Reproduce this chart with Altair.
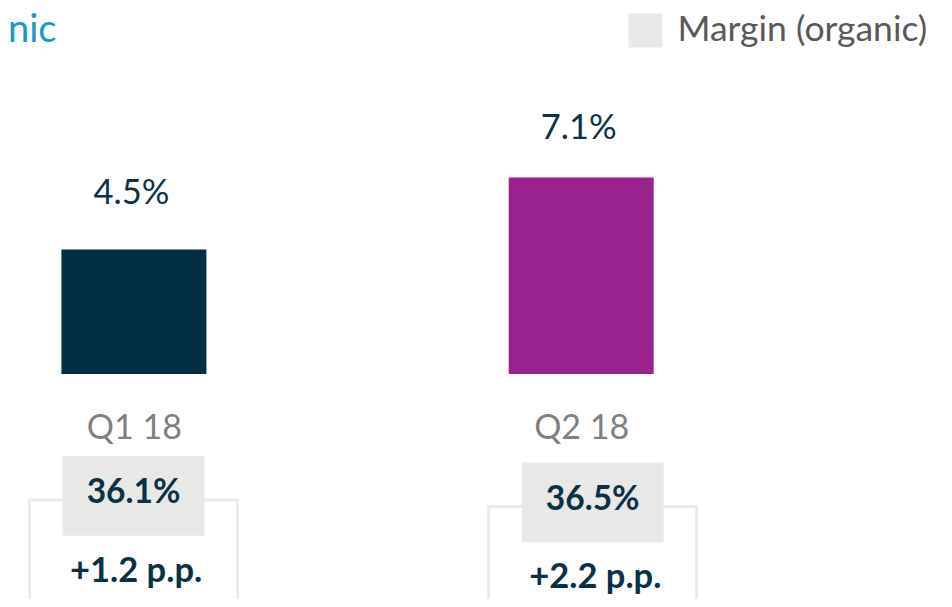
import altair as alt
import pandas as pd

# ---- data ----
categories = ["Q1 18", "Q2 18"]
growth = [4.5, 7.1]              # organic growth, %
margin = [36.1, 36.5]            # margin (organic), %
margin_change = [1.2, 2.2]       # change in margin, p.p.
bar_colors = ["#032f45", "#99228f"]
series_name = "Margin (organic)"
title_text = "nic"

df = pd.DataFrame({
    "quarter": categories,
    "growth": growth,
    "margin": margin,
    "change": margin_change,
})
df["growth_label"] = df["growth"].map(lambda v: f"{v:.1f}%")
df["margin_label"] = df["margin"].map(lambda v: f"{v:.1f}%")
df["change_label"] = df["change"].map(lambda v: f"+{v:.1f} p.p.")
df["series"] = series_name

FONT = "Lato"
NAVY = "#0a3246"
BOX = "#e8e8e6"
BRACKET = "#ebebeb"

# ---------------- upper part: bars ----------------
x_up = alt.X("quarter:N", sort=categories,
             scale=alt.Scale(type="point", domain=categories, range=[125.9, 573.2], padding=0),
             axis=alt.Axis(title=None, domain=False, ticks=False, tickSize=0, grid=False,
                           labelAngle=0, labelPadding=64.3, labelBaseline="alphabetic",
                           labelFont=FONT, labelFontSize=34, labelColor="#7f7f7f"))
y_up = alt.Y("growth:Q", scale=alt.Scale(domain=[0, 13.22], nice=False, zero=True), axis=None)

base = alt.Chart(df)
bars = base.mark_bar(width=145).encode(
    x=x_up, y=y_up,
    color=alt.Color("quarter:N", scale=alt.Scale(domain=categories, range=bar_colors), legend=None),
)
label_dy = [-45.3, -38.4]
value_labels = [
    base.transform_filter(alt.datum.quarter == c).mark_text(
        font=FONT, fontSize=34.5, color=NAVY, baseline="alphabetic", align="center",
        dx=-2.5, dy=label_dy[i],
    ).encode(x=x_up, y=y_up, text="growth_label:N")
    for i, c in enumerate(categories)
]
upper = alt.layer(bars, *value_labels)

# ---------------- lower part: margin boxes ----------------
x_low = alt.X("quarter:N", sort=categories,
              scale=alt.Scale(type="point", domain=categories, range=[125.5, 584.7], padding=0),
              axis=None)
legend = alt.Legend(title=None, orient="none", legendX=619.7, legendY=4.7, padding=0,
                    symbolType="square", symbolSize=1156, symbolStrokeWidth=0, symbolOpacity=1,
                    labelFont=FONT, labelFontSize=35.5, labelColor="#595959", labelOffset=14.3,
                    labelLimit=400)
shift_y = [0, 6.5]
lower_layers = []
for i, c in enumerate(categories):
    sy = shift_y[i]
    b = base.transform_filter(alt.datum.quarter == c)
    bracket = b.mark_bar(width=208, fillOpacity=0, stroke=BRACKET, strokeWidth=3).encode(
        x=x_low, y=alt.value(492 + sy), y2=alt.value(700))
    box = b.mark_bar(width=142).encode(
        x=x_low, y=alt.value(448 + sy), y2=alt.value(527.7 + sy),
        color=alt.Color("series:N", scale=alt.Scale(domain=[series_name], range=[BOX]), legend=legend))
    mtext = b.mark_text(font=FONT, fontSize=33.5, fontWeight="bold", color=NAVY,
                        baseline="alphabetic", align="center").encode(
        x=x_low, y=alt.value(495.3 + sy), text="margin_label:N")
    ctext = b.mark_text(font=FONT, fontSize=34.5, fontWeight="bold", color=NAVY,
                        baseline="alphabetic", align="center", dx=2.6).encode(
        x=x_low, y=alt.value(573.7 + sy), text="change_label:N")
    lower_layers += [bracket, box, mtext, ctext]
lower = alt.layer(*lower_layers)

# ---------------- cropped title ----------------
title = alt.Chart(pd.DataFrame({"t": [title_text]})).mark_text(
    font=FONT, fontSize=38, color="#149bbf", baseline="alphabetic", align="left",
).encode(x=alt.value(0), y=alt.value(34.3), text="t:N")

chart = alt.layer(upper, lower, title).resolve_scale(
    x="independent", color="independent"
).properties(
    width=936, height=366,
    autosize=alt.AutoSizeParams(type="none"),
    padding={"left": 0, "top": 0, "right": 0, "bottom": 225},
).configure_view(stroke=None)

chart.save("out.html", embed_options={"renderer": "svg", "actions": False})
